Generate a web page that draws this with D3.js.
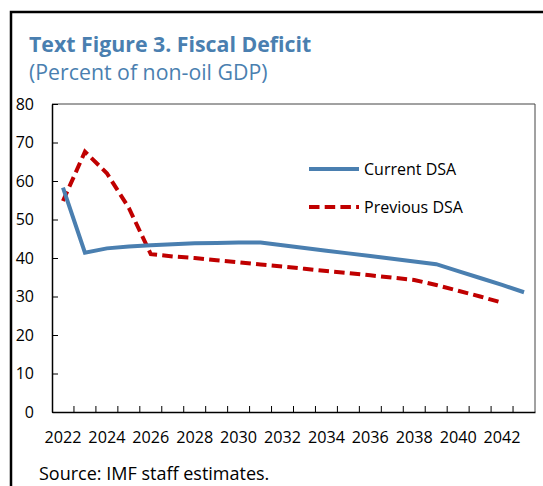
<!DOCTYPE html>
<html>
<head>
<meta charset="utf-8">
<script src="https://cdn.jsdelivr.net/npm/d3@7"></script>
<style>
  html, body { margin: 0; padding: 0; background: #fff; }
  svg { display: block; font-family: "Open Sans", sans-serif; }
</style>
</head>
<body>
<svg id="chart" width="543" height="486"></svg>
<script>
const years = d3.range(2022, 2044);
const currentDSA = [58.3, 41.4, 42.5, 43.0, 43.3, 43.6, 43.8, 43.9, 44.0, 44.0, 43.3, 42.6, 41.9, 41.2, 40.5, 39.8, 39.1, 38.4, 36.6, 34.8, 33.0, 31.1];
const previousDSA = [54.8, 67.6, 62.0, 53.0, 41.0, 40.4, 40.0, 39.4, 38.9, 38.3, 37.8, 37.2, 36.6, 36.1, 35.5, 34.9, 34.3, 33.0, 31.5, 30.0, 28.4, null];
const yTicks = [0, 10, 20, 30, 40, 50, 60, 70, 80];
const xLabels = [2022, 2024, 2026, 2028, 2030, 2032, 2034, 2036, 2038, 2040, 2042];
const seriesNames = ["Current DSA", "Previous DSA"];

const blue = "#4a7fb0";
const red = "#c00000";

const svg = d3.select("#chart");
const mLeft = 52, mRight = 535, mTop = 104, mBottom = 412;

// outer frame
svg.append("path")
  .attr("d", "M11,490 L11,12 L548,12")
  .attr("fill", "none").attr("stroke", "#000").attr("stroke-width", 2.5);

// title
svg.append("text").attr("x", 29).attr("y", 52)
  .attr("fill", blue).attr("font-weight", 700).attr("font-size", 21.3)
  .text("Text Figure 3. Fiscal Deficit");
svg.append("text").attr("x", 29).attr("y", 80)
  .attr("fill", blue).attr("font-size", 21.3)
  .text("(Percent of non-oil GDP)");

const x = d3.scaleBand().domain(years).range([mLeft, mRight]).padding(0);
const y = d3.scaleLinear().domain([0, 80]).range([mBottom, mTop]);

// plot box top/right
svg.append("path")
  .attr("d", `M${mLeft},${mTop} L${mRight},${mTop} L${mRight},${mBottom}`)
  .attr("fill", "none").attr("stroke", "#444").attr("stroke-width", 1);

// y axis
const yAxis = svg.append("g").attr("transform", `translate(${mLeft},0)`)
  .call(d3.axisLeft(y).tickValues(yTicks).tickSize(-6).tickPadding(18).tickSizeOuter(0));
yAxis.select(".domain").attr("stroke", "#000").attr("stroke-width", 1.5);
yAxis.selectAll(".tick line").attr("stroke", "#000").attr("stroke-width", 1);
yAxis.selectAll("text").attr("font-size", 16).attr("fill", "#000").attr("font-family", "Open Sans");

// x axis
const xAxis = svg.append("g").attr("transform", `translate(0,${mBottom})`)
  .call(d3.axisBottom(x).tickValues(xLabels).tickSize(0).tickPadding(19).tickSizeOuter(0));
xAxis.select(".domain").attr("stroke", "#000").attr("stroke-width", 1.5);
xAxis.selectAll("text").attr("font-size", 16.2).attr("fill", "#000").attr("font-family", "Open Sans");
xAxis.selectAll(".tickmark").data(years.slice(1)).enter().append("line")
  .attr("class", "tickmark")
  .attr("x1", d => x(d)).attr("x2", d => x(d))
  .attr("y1", 0).attr("y2", -6)
  .attr("stroke", "#000").attr("stroke-width", 1);

// lines
const line = d3.line()
  .defined(d => d.v != null)
  .x(d => x(d.year) + x.bandwidth() / 2)
  .y(d => y(d.v));

const prevData = years.map((yr, i) => ({year: yr, v: previousDSA[i]}));
const curData = years.map((yr, i) => ({year: yr, v: currentDSA[i]}));

svg.append("path").datum(prevData)
  .attr("d", line).attr("fill", "none")
  .attr("stroke", red).attr("stroke-width", 4).attr("stroke-dasharray", "10.5,5.2");
svg.append("path").datum(curData)
  .attr("d", line).attr("fill", "none")
  .attr("stroke", blue).attr("stroke-width", 4);

// legend
const legend = svg.append("g");
legend.append("line").attr("x1", 309).attr("x2", 359).attr("y1", 169).attr("y2", 169)
  .attr("stroke", blue).attr("stroke-width", 4);
legend.append("text").attr("x", 364).attr("y", 175).attr("font-size", 16).text(seriesNames[0]);
legend.append("line").attr("x1", 309).attr("x2", 359).attr("y1", 207).attr("y2", 207)
  .attr("stroke", red).attr("stroke-width", 4).attr("stroke-dasharray", "10.5,5.2");
legend.append("text").attr("x", 364).attr("y", 213).attr("font-size", 16).text(seriesNames[1]);

// source
svg.append("text").attr("x", 39).attr("y", 480).attr("font-size", 18)
  .attr("fill", "#000").text("Source: IMF staff estimates.");
</script>
</body>
</html>
